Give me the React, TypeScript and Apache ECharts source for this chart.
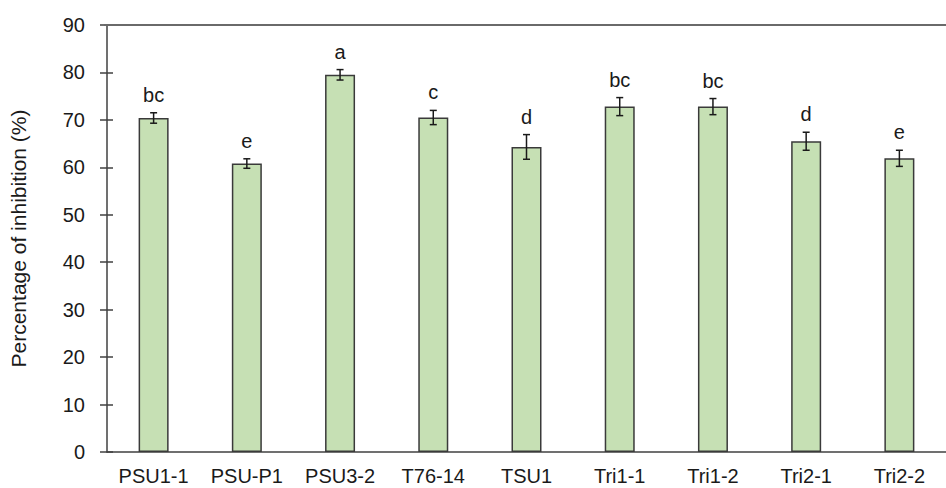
import React, { useEffect, useRef } from "react";
import * as echarts from "echarts";

const categories = ["PSU1-1", "PSU-P1", "PSU3-2", "T76-14", "TSU1", "Tri1-1", "Tri1-2", "Tri2-1", "Tri2-2"];
const means = [70.4, 60.8, 79.5, 70.5, 64.3, 72.8, 72.8, 65.5, 61.9];
const errors = [1.1, 1.0, 1.1, 1.5, 2.6, 1.9, 1.7, 1.9, 1.7];
const letters = ["bc", "e", "a", "c", "d", "bc", "bc", "d", "e"];
const yTicks = { min: 0, max: 90, interval: 10 };

const FONT = "Arial, 'Liberation Sans', sans-serif";
const TEXT = "#1a1a1a";

export default function App() {
  const ref = useRef<HTMLDivElement>(null);
  useEffect(() => {
    if (!ref.current) return;
    const chart = echarts.init(ref.current, undefined, { renderer: "svg" });
    const errData = categories.map((_, i) => [i, means[i], errors[i]]);
    chart.setOption({
      animation: false,
      backgroundColor: "#ffffff",
      grid: { left: 104, top: 25, width: 855, height: 427, containLabel: false },
      xAxis: {
        type: "category",
        data: categories,
        axisLine: { show: true, onZero: false, lineStyle: { color: "#404040", width: 1.5 } },
        axisTick: { show: false },
        axisLabel: { color: TEXT, fontSize: 20, fontFamily: FONT, margin: 14, interval: 0 },
        splitLine: { show: false },
      },
      yAxis: [
        {
          type: "value",
          min: yTicks.min,
          max: yTicks.max,
          interval: yTicks.interval,
          position: "left",
          name: "Percentage of inhibition (%)",
          nameLocation: "middle",
          nameGap: 78,
          nameTextStyle: { color: TEXT, fontSize: 21, fontFamily: FONT },
          axisLine: { show: true, lineStyle: { color: "#404040", width: 1.5 } },
          axisTick: { show: true, inside: false, length: 7, lineStyle: { color: "#404040", width: 1.5 } },
          axisLabel: { color: TEXT, fontSize: 20, fontFamily: FONT, margin: 22 },
          splitLine: { show: false },
        },
        {
          type: "value",
          min: yTicks.min,
          max: yTicks.max,
          interval: yTicks.interval,
          position: "left",
          axisLine: { show: false },
          axisTick: { show: true, inside: true, length: 6, lineStyle: { color: "#404040", width: 1.5 } },
          axisLabel: { show: false },
          splitLine: { show: false },
        },
      ],
      graphic: [
        {
          type: "rect",
          z: 100,
          left: 104,
          top: 24,
          shape: { x: 0, y: 0, width: 842, height: 2 },
          style: { fill: "#6a6a6a" },
        },
      ],
      series: [
        {
          type: "bar",
          data: means,
          barWidth: 30,
          itemStyle: { color: "#c6e0b4", borderColor: "#3a3a3a", borderWidth: 1.5 },
        },
        {
          type: "custom",
          data: errData,
          z: 10,
          renderItem: (params: any, api: any) => {
            const i = api.value(0);
            const m = api.value(1);
            const e = api.value(2);
            const top = api.coord([i, m + e]);
            const bot = api.coord([i, m - e]);
            const x = top[0];
            const cap = 3.5;
            const ls = { stroke: "#1a1a1a", lineWidth: 1.5 };
            return {
              type: "group",
              children: [
                { type: "line", shape: { x1: x, y1: top[1], x2: x, y2: bot[1] }, style: ls },
                { type: "line", shape: { x1: x - cap, y1: top[1], x2: x + cap, y2: top[1] }, style: ls },
                { type: "line", shape: { x1: x - cap, y1: bot[1], x2: x + cap, y2: bot[1] }, style: ls },
                {
                  type: "text",
                  style: {
                    text: letters[params.dataIndex],
                    x: x,
                    y: top[1] - 8,
                    align: "center",
                    verticalAlign: "bottom",
                    textAlign: "center",
                    textVerticalAlign: "bottom",
                    fontSize: 20,
                    fontFamily: FONT,
                    fill: TEXT,
                  },
                },
              ],
            };
          },
        },
      ],
    });
    return () => chart.dispose();
  }, []);
  return (
    <div
      ref={ref}
      style={{ position: "absolute", left: 0, top: 0, width: 946, height: 488, background: "#fff" }}
    />
  );
}
